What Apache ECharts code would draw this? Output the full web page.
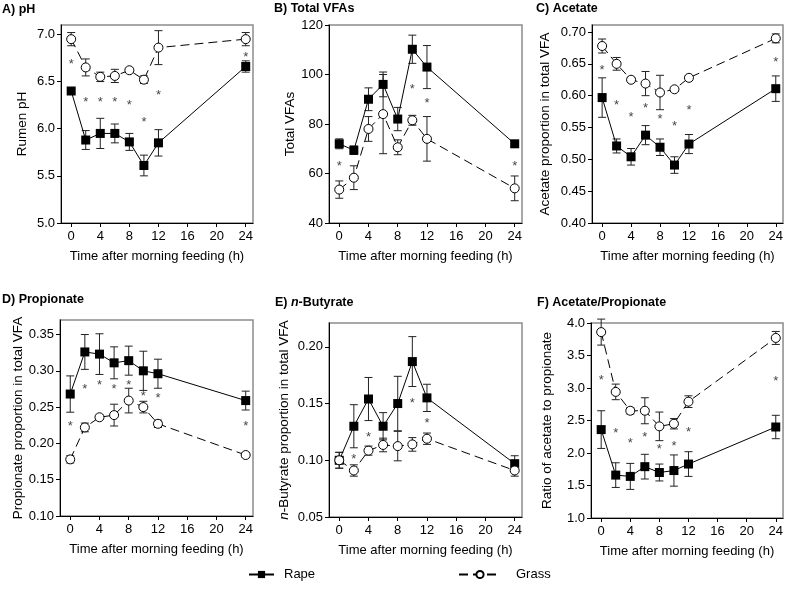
<!DOCTYPE html>
<html>
<head>
<meta charset="utf-8">
<script src="https://cdn.jsdelivr.net/npm/echarts@6/dist/echarts.min.js"></script>
<style>
  html, body { margin: 0; padding: 0; background: #fff; }
  #box { width: 786px; height: 597px; }
</style>
</head>
<body>
<div id="box"></div>
<script>
// sampling times (h after morning feeding)
var hours = [0, 2, 4, 6, 8, 10, 12, 24];
var hourTicks = [0, 4, 8, 12, 16, 20, 24];

// A) pH
var phRape = [6.40, 5.88, 5.95, 5.95, 5.86, 5.61, 5.85, 6.66];
var phRapeSE = [0.02, 0.10, 0.16, 0.10, 0.09, 0.11, 0.14, 0.06];
var phGrass = [6.95, 6.65, 6.55, 6.56, 6.62, 6.52, 6.86, 6.95];
var phGrassSE = [0.07, 0.09, 0.05, 0.07, 0.02, 0.04, 0.18, 0.07];
var phStar = [6.71, 6.31, 6.31, 6.31, 6.28, 6.10, 6.39, 6.79];
var phTicks = [5.0, 5.5, 6.0, 6.5, 7.0];

// B) Total VFAs
var vfaRape = [72, 69.4, 90, 96, 82, 110.2, 103, 72];
var vfaRapeSE = [2, 1.7, 4.6, 5, 4.7, 5.7, 8.7, 1];
var vfaGrass = [53.5, 58.3, 78, 84, 70.6, 81.5, 74, 54];
var vfaGrassSE = [3.5, 4.8, 5, 16, 3, 2, 9, 5];
var vfaStar = [64, null, null, null, null, 95, 89.5, 64];
var vfaTicks = [40, 60, 80, 100, 120];

// C) Acetate
var acRape = [0.597, 0.521, 0.504, 0.538, 0.519, 0.491, 0.524, 0.611];
var acRapeSE = [0.031, 0.011, 0.013, 0.015, 0.013, 0.013, 0.015, 0.02];
var acGrass = [0.678, 0.650, 0.625, 0.619, 0.605, 0.610, 0.628, 0.690];
var acGrassSE = [0.011, 0.010, 0.004, 0.019, 0.027, 0.003, 0.003, 0.007];
var acStar = [0.645, 0.590, 0.570, 0.585, 0.567, 0.557, 0.582, 0.657];
var acTicks = [0.40, 0.45, 0.50, 0.55, 0.60, 0.65, 0.70];

// D) Propionate
var prRape = [0.268, 0.326, 0.323, 0.311, 0.314, 0.300, 0.296, 0.259];
var prRapeSE = [0.025, 0.024, 0.028, 0.022, 0.020, 0.027, 0.020, 0.013];
var prGrass = [0.178, 0.222, 0.236, 0.239, 0.259, 0.250, 0.227, 0.184];
var prGrassSE = [0.005, 0.006, 0.003, 0.015, 0.017, 0.008, 0.005, 0.003];
var prStar = [0.228, 0.279, 0.284, 0.279, 0.284, 0.269, 0.266, 0.227];
var prTicks = [0.10, 0.15, 0.20, 0.25, 0.30, 0.35];

// E) n-Butyrate
var buRape = [0.100, 0.130, 0.154, 0.130, 0.150, 0.187, 0.155, 0.097];
var buRapeSE = [0.007, 0.019, 0.019, 0.012, 0.024, 0.022, 0.012, 0.007];
var buGrass = [0.100, 0.091, 0.1085, 0.1135, 0.1125, 0.114, 0.119, 0.091];
var buGrassSE = [0.007, 0.005, 0.004, 0.006, 0.013, 0.006, 0.005, 0.005];
var buStar = [null, 0.103, 0.123, null, null, 0.153, 0.135, null];
var buTicks = [0.05, 0.10, 0.15, 0.20];

// F) Acetate/Propionate
var apRape = [2.36, 1.66, 1.64, 1.79, 1.70, 1.73, 1.83, 2.40];
var apRapeSE = [0.29, 0.19, 0.20, 0.19, 0.13, 0.24, 0.19, 0.18];
var apGrass = [3.86, 2.94, 2.65, 2.65, 2.41, 2.45, 2.79, 3.77];
var apGrassSE = [0.20, 0.12, 0.05, 0.20, 0.22, 0.08, 0.09, 0.10];
var apStar = [3.16, 2.35, 2.20, 2.29, 2.10, 2.15, 2.36, 3.14];
var apTicks = [1.0, 1.5, 2.0, 2.5, 3.0, 3.5, 4.0];

var FONT = '"Liberation Sans", Arial, sans-serif';

var panels = [
  {title: '{b|A) pH}', yName: 'Rumen pH', rape: phRape, rapeSE: phRapeSE, grass: phGrass, grassSE: phGrassSE, star: phStar,
   yMin: 5, yMax: 7.1, ticks: phTicks, dec: 1, grid: [61, 25, 192, 198], gap: 32, tpos: [2, 3]},
  {title: '{b|B) Total VFAs}', yName: 'Total VFAs', rape: vfaRape, rapeSE: vfaRapeSE, grass: vfaGrass, grassSE: vfaGrassSE, star: vfaStar,
   yMin: 40, yMax: 120, ticks: vfaTicks, dec: 0, grid: [329, 25, 193, 198], gap: 31, tpos: [274, 2]},
  {title: '{b|C) Acetate}', yName: 'Acetate proportion in total VFA', rape: acRape, rapeSE: acRapeSE, grass: acGrass, grassSE: acGrassSE, star: acStar,
   yMin: 0.40, yMax: 0.711, ticks: acTicks, dec: 2, grid: [592, 25, 193, 198], gap: 40, tpos: [536, 2]},
  {title: '{b|D) Propionate}', yName: 'Propionate proportion in total VFA', rape: prRape, rapeSE: prRapeSE, grass: prGrass, grassSE: prGrassSE, star: prStar,
   yMin: 0.10, yMax: 0.37, ticks: prTicks, dec: 2, grid: [60, 320, 193, 196], gap: 31, tpos: [2, 293]},
  {title: '{b|E) }{bi|n}{b|-Butyrate}', yName: '{i|n}-Butyrate proportion in total VFA', rape: buRape, rapeSE: buRapeSE, grass: buGrass, grassSE: buGrassSE, star: buStar,
   yMin: 0.05, yMax: 0.221, ticks: buTicks, dec: 2, grid: [329, 323, 193, 194], gap: 38, tpos: [275, 296]},
  {title: '{b|F) Acetate/Propionate}', yName: 'Ratio of acetate to propionate', rape: apRape, rapeSE: apRapeSE, grass: apGrass, grassSE: apGrassSE, star: apStar,
   yMin: 1.0, yMax: 4.0, ticks: apTicks, dec: 1, grid: [591, 323, 193, 195], gap: 37, tpos: [537, 296]}
];

function pairs(ys) {
  var out = [];
  hours.forEach(function (h, i) { if (ys[i] != null) out.push([h, ys[i]]); });
  return out;
}
function bars(ys, se) {
  return hours.map(function (h, i) { return [h, ys[i] - se[i], ys[i] + se[i]]; });
}
function errRender(params, api) {
  var x = api.value(0);
  var top = api.coord([x, api.value(2)]);
  var bot = api.coord([x, api.value(1)]);
  var w = 4;
  var st = {stroke: '#222', lineWidth: 1};
  return {type: 'group', children: [
    {type: 'line', shape: {x1: top[0], y1: top[1], x2: bot[0], y2: bot[1]}, style: st},
    {type: 'line', shape: {x1: top[0] - w, y1: top[1], x2: top[0] + w, y2: top[1]}, style: st},
    {type: 'line', shape: {x1: bot[0] - w, y1: bot[1], x2: bot[0] + w, y2: bot[1]}, style: st}
  ]};
}

var grids = [], xAxes = [], yAxes = [], titles = [], series = [];
panels.forEach(function (p, i) {
  grids.push({left: p.grid[0], top: p.grid[1], width: p.grid[2], height: p.grid[3],
    show: true, borderColor: '#8c8c8c', borderWidth: 1.5, containLabel: false});
  titles.push({text: p.title, left: p.tpos[0], top: p.tpos[1], padding: 0,
    textStyle: {rich: {
      b: {fontFamily: FONT, fontSize: 12.5, fontWeight: 'bold', color: '#000'},
      bi: {fontFamily: FONT, fontSize: 12.5, fontWeight: 'bold', fontStyle: 'italic', color: '#000'}
    }}});
  xAxes.push({type: 'value', gridIndex: i, min: -1.4, max: 25,
    name: 'Time after morning feeding (h)', nameLocation: 'middle', nameGap: 27,
    nameTextStyle: {fontFamily: FONT, fontSize: 13, color: '#000'},
    axisLine: {onZero: false, lineStyle: {color: '#000', width: 1}},
    axisTick: {show: true, length: 4, customValues: hourTicks, lineStyle: {color: '#000'}},
    axisLabel: {customValues: hourTicks, margin: 7, fontFamily: FONT, fontSize: 13, color: '#000'},
    splitLine: {show: false}});
  yAxes.push({type: 'value', gridIndex: i, min: p.yMin, max: p.yMax,
    name: p.yName, nameLocation: 'middle', nameGap: p.gap,
    nameTextStyle: {fontFamily: FONT, fontSize: 13.5, color: '#000',
      rich: {i: {fontFamily: FONT, fontSize: 13.5, fontStyle: 'italic', color: '#000'}}},
    axisLine: {show: true, onZero: false, lineStyle: {color: '#000', width: 1}},
    axisTick: {show: true, length: 4, customValues: p.ticks, lineStyle: {color: '#000'}},
    axisLabel: {customValues: p.ticks, margin: 6, fontFamily: FONT, fontSize: 13, color: '#000',
      formatter: (function (d) { return function (v) { return Number(v).toFixed(d); }; })(p.dec)},
    splitLine: {show: false}});

  series.push({type: 'custom', xAxisIndex: i, yAxisIndex: i, renderItem: errRender,
    data: bars(p.rape, p.rapeSE), encode: {x: 0, y: [1, 2]}, z: 2, silent: true});
  series.push({type: 'custom', xAxisIndex: i, yAxisIndex: i, renderItem: errRender,
    data: bars(p.grass, p.grassSE), encode: {x: 0, y: [1, 2]}, z: 2, silent: true});
  series.push({name: 'Rape', type: 'line', xAxisIndex: i, yAxisIndex: i, data: pairs(p.rape),
    symbol: 'rect', symbolSize: 9, itemStyle: {color: '#000'},
    lineStyle: {color: '#000', width: 1}, z: 3, silent: true});
  series.push({name: 'Grass', type: 'line', xAxisIndex: i, yAxisIndex: i, data: pairs(p.grass),
    symbol: 'circle', symbolSize: 9, showAllSymbol: true,
    itemStyle: {color: '#fff', borderColor: '#000', borderWidth: 1},
    lineStyle: {color: '#000', width: 1, type: [9, 5]}, z: 3, silent: true});
  series.push({type: 'scatter', xAxisIndex: i, yAxisIndex: i, data: pairs(p.star),
    symbol: 'circle', symbolSize: 1, itemStyle: {color: 'rgba(0,0,0,0)'},
    label: {show: true, position: 'inside', formatter: '*', offset: [0, 3],
      fontFamily: FONT, fontSize: 13, color: '#111'}, z: 4, silent: true});
});

var mychart = echarts.init(document.getElementById('box'));
mychart.setOption({
  animation: false,
  backgroundColor: '#fff',
  title: titles,
  grid: grids,
  xAxis: xAxes,
  yAxis: yAxes,
  legend: [
    {data: ['Rape'], left: 243, top: 563, itemWidth: 25, itemHeight: 9, selectedMode: false,
      textStyle: {fontFamily: FONT, fontSize: 13, color: '#000', padding: [0, 0, 0, 5]}},
    {data: ['Grass'], left: 453, top: 563, itemWidth: 42, itemHeight: 9, selectedMode: false,
      textStyle: {fontFamily: FONT, fontSize: 13, color: '#000', padding: [0, 0, 0, 10]}}
  ],
  series: series
});
</script>
</body>
</html>
